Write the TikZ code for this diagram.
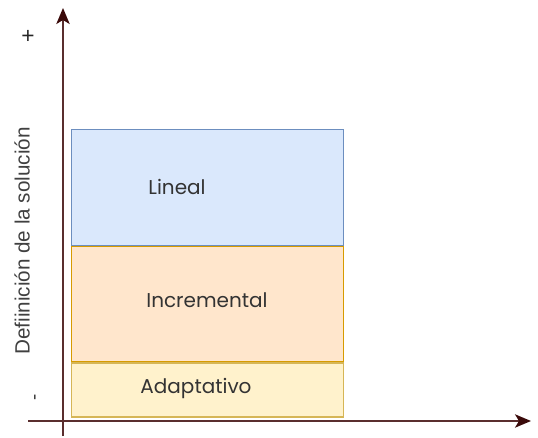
\documentclass[tikz,border=0pt]{standalone}
\usepackage{fontspec}
\setmainfont{Poppins}
\setsansfont{Liberation Sans}
\usepackage{xcolor}
\usetikzlibrary{arrows.meta}
\definecolor{ejecol}{HTML}{5A2E2E}
\definecolor{puntacol}{HTML}{3A0A0A}
\definecolor{azulfill}{HTML}{DAE8FC}
\definecolor{azuldraw}{HTML}{6C8EBF}
\definecolor{naranjafill}{HTML}{FFE6CC}
\definecolor{naranjadraw}{HTML}{D79B00}
\definecolor{amarillofill}{HTML}{FFF2CC}
\definecolor{amarillodraw}{HTML}{D6B656}
\tikzset{
	capa/.style 2 args={
			draw=#1, fill=#2, line width=0.9pt, inner sep=0pt,
			minimum width=204pt, anchor=north west
		},
	eje/.style={ejecol, line width=1.4pt, -{Stealth[length=12pt, width=10pt, inset=3pt, puntacol]}},
	etiqueta/.style={text=black!80, font=\fontsize{15}{18}\selectfont}
}

\begin{document}
\begin{tikzpicture}[x=0.75pt, y=-0.75pt]
		\useasboundingbox (0, 0) rectangle (538, 438);

		% capas de la solucion
		\node[capa={azuldraw}{azulfill}, minimum height=87pt]		(lineal)	at (71, 129) {};
		\node[capa={naranjadraw}{naranjafill}, minimum height=86.25pt]	(incremental)	at (lineal.south west) {};
		\node[capa={amarillodraw}{amarillofill}, minimum height=40.5pt]	(adaptativo)	at (incremental.south west) {};

		\node[etiqueta]	(tlineal)		at (177, 187) {Lineal};
		\node[etiqueta]	(tincremental)	at (207, 300) {Incremental};
		\node[etiqueta]	(tadaptativo)	at (196, 388) {Adaptativo};

		% ejes
		\coordinate (origen) at (63, 421);
		\coordinate (ybajo) at (63, 436);
		\coordinate (yarriba) at (63, 8);
		\coordinate (xizq) at (28, 421);
		\coordinate (xder) at (531, 421);
		\draw[eje]	(ybajo) to (yarriba);
		\draw[eje]	(xizq) to (xder);

		\node[font=\sffamily\fontsize{15.5}{18}\selectfont, text=black!75, rotate=90]	(definicion)	at (22, 241) {Defiinición de la solución};
		\node[font=\sffamily\fontsize{17}{18}\selectfont, text=black!85]	(mas)	at (28, 37) {+};
		\node[font=\sffamily\fontsize{14}{15}\selectfont, text=black!80, rotate=90]	(menos)	at (37, 397) {-};
	\end{tikzpicture}
\end{document}
